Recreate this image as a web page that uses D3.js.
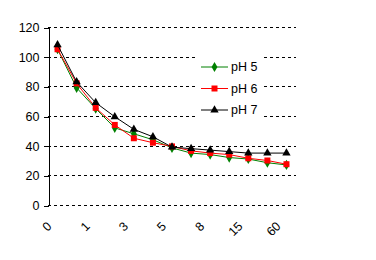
<!DOCTYPE html>
<html>
<head>
<meta charset="utf-8">
<script src="https://cdn.jsdelivr.net/npm/d3@7"></script>
<style>
  body { margin: 0; background: #fff; }
  svg { display: block; font-family: "Liberation Sans", Arial, sans-serif; }
</style>
</head>
<body>
<div id="chart"></div>
<script>
// Categories on the x axis (only every other one gets a label).
const categories = ["0", "0.5", "1", "2", "3", "4", "5", "6", "8", "10", "15", "30", "60"];
const yTicks = [0, 20, 40, 60, 80, 100, 120];

// Series values.
const ph5 = [105, 79, 65, 52, 48, 44, 38.5, 35, 34, 32, 31, 28.5, 27];
const ph6 = [105, 82, 65.5, 54, 45, 42, 39.5, 36.5, 35, 34, 31.5, 30, 27.5];
const ph7 = [108, 83, 69, 59.5, 51, 46, 39, 38, 37, 36, 35, 35, 35];
const seriesNames = ["pH 5", "pH 6", "pH 7"];

function createChart(width, height) {
    // Plot area bounds.
    const marginLeft = 48;
    const marginRight = 80;
    const marginTop = 27;
    const marginBottom = 55;

    const x = d3.scaleBand()
        .domain(categories)
        .range([marginLeft, width - marginRight]);

    const y = d3.scaleLinear()
        .domain([0, 120])
        .range([height - marginBottom, marginTop]);

    const series = [
        { name: seriesNames[0], values: ph5, color: "#008000", marker: d3.symbolDiamond, size: 30 },
        { name: seriesNames[1], values: ph6, color: "#ff0000", marker: d3.symbolSquare, size: 36 },
        { name: seriesNames[2], values: ph7, color: "#000000", marker: d3.symbolTriangle, size: 30 }
    ];

    const svg = d3.create("svg")
        .attr("width", width)
        .attr("height", height)
        .attr("viewBox", [0, 0, width, height]);

    // Dashed horizontal grid lines.
    svg.append("g")
        .selectAll("line")
        .data(yTicks)
        .join("line")
        .attr("x1", marginLeft)
        .attr("x2", width - marginRight)
        .attr("y1", d => Math.round(y(d)) + 0.5)
        .attr("y2", d => Math.round(y(d)) + 0.5)
        .attr("stroke", "#000")
        .attr("stroke-dasharray", "3,3")
        .attr("shape-rendering", "crispEdges");

    // Y axis.
    svg.append("g")
        .attr("transform", `translate(${marginLeft + 0.5},0.5)`)
        .call(d3.axisLeft(y).tickValues(yTicks).tickSize(5).tickPadding(4).tickSizeOuter(0))
        .call(g => g.selectAll("line, path").attr("shape-rendering", "crispEdges"))
        .call(g => g.selectAll("text")
            .attr("font-size", "12.5px")
            .attr("font-family", "Liberation Sans, Arial, sans-serif")
            .attr("fill", "#000"));

    // X axis labels, rotated, every other category.
    svg.append("g")
        .attr("transform", `translate(0,${height - marginBottom})`)
        .call(d3.axisBottom(x)
            .tickFormat((d, i) => i % 2 === 0 ? d : "")
            .tickSize(0))
        .call(g => g.select(".domain").remove())
        .call(g => g.selectAll("text")
            .attr("font-size", "12.5px")
            .attr("font-family", "Liberation Sans, Arial, sans-serif")
            .attr("fill", "#000")
            .attr("text-anchor", "end")
            .attr("dy", null)
            .attr("y", null)
            .attr("transform", "translate(-5,22) rotate(-45)"));

    const cx = d => x(d) + x.bandwidth() / 2;

    // Lines and markers.
    series.forEach(s => {
        const line = d3.line()
            .x((d, i) => cx(categories[i]))
            .y(d => y(d));

        svg.append("path")
            .datum(s.values)
            .attr("fill", "none")
            .attr("stroke", s.color)
            .attr("stroke-width", 1)
            .attr("d", line);

        svg.append("g")
            .selectAll("path")
            .data(s.values)
            .join("path")
            .attr("transform", (d, i) => `translate(${cx(categories[i])},${y(d)})`)
            .attr("d", d3.symbol(s.marker, s.size))
            .attr("fill", s.color);
    });

    // Legend with white background.
    const legend = svg.append("g")
        .attr("transform", `translate(196,50)`);

    legend.append("rect")
        .attr("width", 67)
        .attr("height", 71)
        .attr("fill", "#fff");

    const items = legend.selectAll("g")
        .data(series)
        .join("g")
        .attr("transform", (d, i) => `translate(0,${17 + i * 21.5})`);

    items.append("line")
        .attr("x1", 5)
        .attr("x2", 32)
        .attr("stroke", d => d.color)
        .attr("stroke-width", 1);

    items.append("path")
        .attr("transform", "translate(18.5,0)")
        .attr("d", d => d3.symbol(d.marker, d.size)())
        .attr("fill", d => d.color);

    items.append("text")
        .attr("x", 35)
        .attr("dy", "0.35em")
        .attr("font-size", "12.5px")
        .attr("fill", "#000")
        .text(d => d.name);

    return svg.node();
}

document.getElementById("chart").appendChild(createChart(376, 260));
</script>
</body>
</html>
